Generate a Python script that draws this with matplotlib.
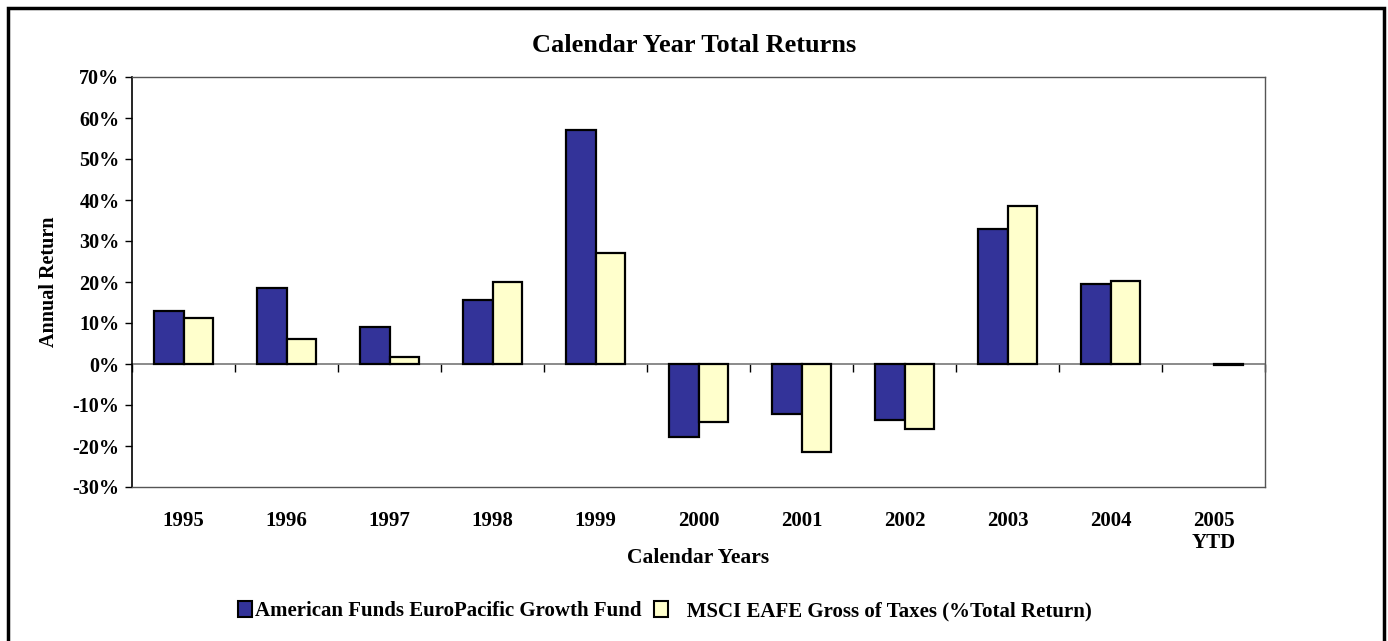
import numpy as np
import matplotlib.pyplot as plt
from matplotlib.patches import Rectangle, Patch
from matplotlib.ticker import FuncFormatter

years = ["1995", "1996", "1997", "1998", "1999", "2000", "2001", "2002",
         "2003", "2004", "2005\nYTD"]
fund = [12.9, 18.6, 9.1, 15.5, 57.0, -17.8, -12.2, -13.6, 32.9, 19.5, np.nan]
eafe = [11.2, 6.1, 1.8, 20.0, 27.0, -14.2, -21.4, -15.9, 38.6, 20.2, -0.2]

blue = "#333399"
yellow = "#FFFFCC"

plt.rcParams["font.family"] = ["Liberation Serif", "DejaVu Serif"]
plt.rcParams["font.weight"] = "bold"

fig = plt.figure(figsize=(13.88, 6.41), dpi=100)
ax = fig.add_axes([132 / 1388, 1 - 487 / 641, (1265 - 132) / 1388, (487 - 77) / 641])

x = np.arange(len(years))
w = 0.29
ax.bar(x - w / 2, fund, w, color=blue, edgecolor="black", linewidth=1.6, zorder=3)
ax.bar(x + w / 2, eafe, w, color=yellow, edgecolor="black", linewidth=1.6, zorder=3)

ymin, ymax = -30, 70
ax.set_ylim(ymin, ymax)
ax.set_xlim(-0.5, len(years) - 0.5)
ax.set_yticks(np.arange(ymin, ymax + 1, 10))
ax.yaxis.set_major_formatter(FuncFormatter(lambda v, p: f"{v:.0f}%"))
ax.tick_params(axis="y", direction="out", length=5, width=1, labelsize=14.5, pad=4)

ax.set_xticks(x)
ax.set_xticklabels(years, fontsize=15, fontweight="bold", linespacing=1.15)
ax.tick_params(axis="x", length=0, pad=17)

for s in ["top", "right", "bottom"]:
    ax.spines[s].set_color("#555555")
    ax.spines[s].set_linewidth(1)
ax.spines["left"].set_color("black")
ax.spines["left"].set_linewidth(1.2)

# zero line with category-boundary ticks
zero_pos = (0 - ymin) / (ymax - ymin)
sec = ax.secondary_xaxis(zero_pos)
sec.set_xticks(np.arange(len(years) + 1) - 0.5)
sec.set_xticklabels([])
sec.tick_params(direction="out", length=6, width=1, color="black")
sec.spines["bottom"].set_color("#777777")
sec.spines["bottom"].set_linewidth(1.2)
sec.spines["top"].set_visible(False)

ax.set_ylabel("Annual Return", fontsize=14.5, fontweight="bold", labelpad=10)
ax.set_xlabel("Calendar Years", fontsize=15.5, fontweight="bold")
ax.xaxis.set_label_coords(0.5, -0.148)
fig.text(0.5, 1 - 46 / 641, "Calendar Year Total Returns", ha="center", va="center",
         fontsize=19, fontweight="bold")

handles = [Patch(facecolor=blue, edgecolor="black", linewidth=1.5),
           Patch(facecolor=yellow, edgecolor="black", linewidth=1.5)]
fig.legend(handles, ["American Funds EuroPacific Growth Fund",
                     "   MSCI EAFE Gross of Taxes (%Total Return)"],
           loc="center", bbox_to_anchor=(0.479, 1 - 611 / 641), ncol=2, frameon=False,
           prop={"size": 15, "weight": "bold"}, handlelength=0.65, handleheight=0.8,
           handletextpad=0.15, columnspacing=0.6)

fig.patches.append(Rectangle((8 / 1388, -0.01), (1384 - 8) / 1388, 1.01 - 8 / 641,
                             transform=fig.transFigure, fill=False,
                             edgecolor="black", linewidth=2.5))

fig.savefig("out.png", dpi=100)
